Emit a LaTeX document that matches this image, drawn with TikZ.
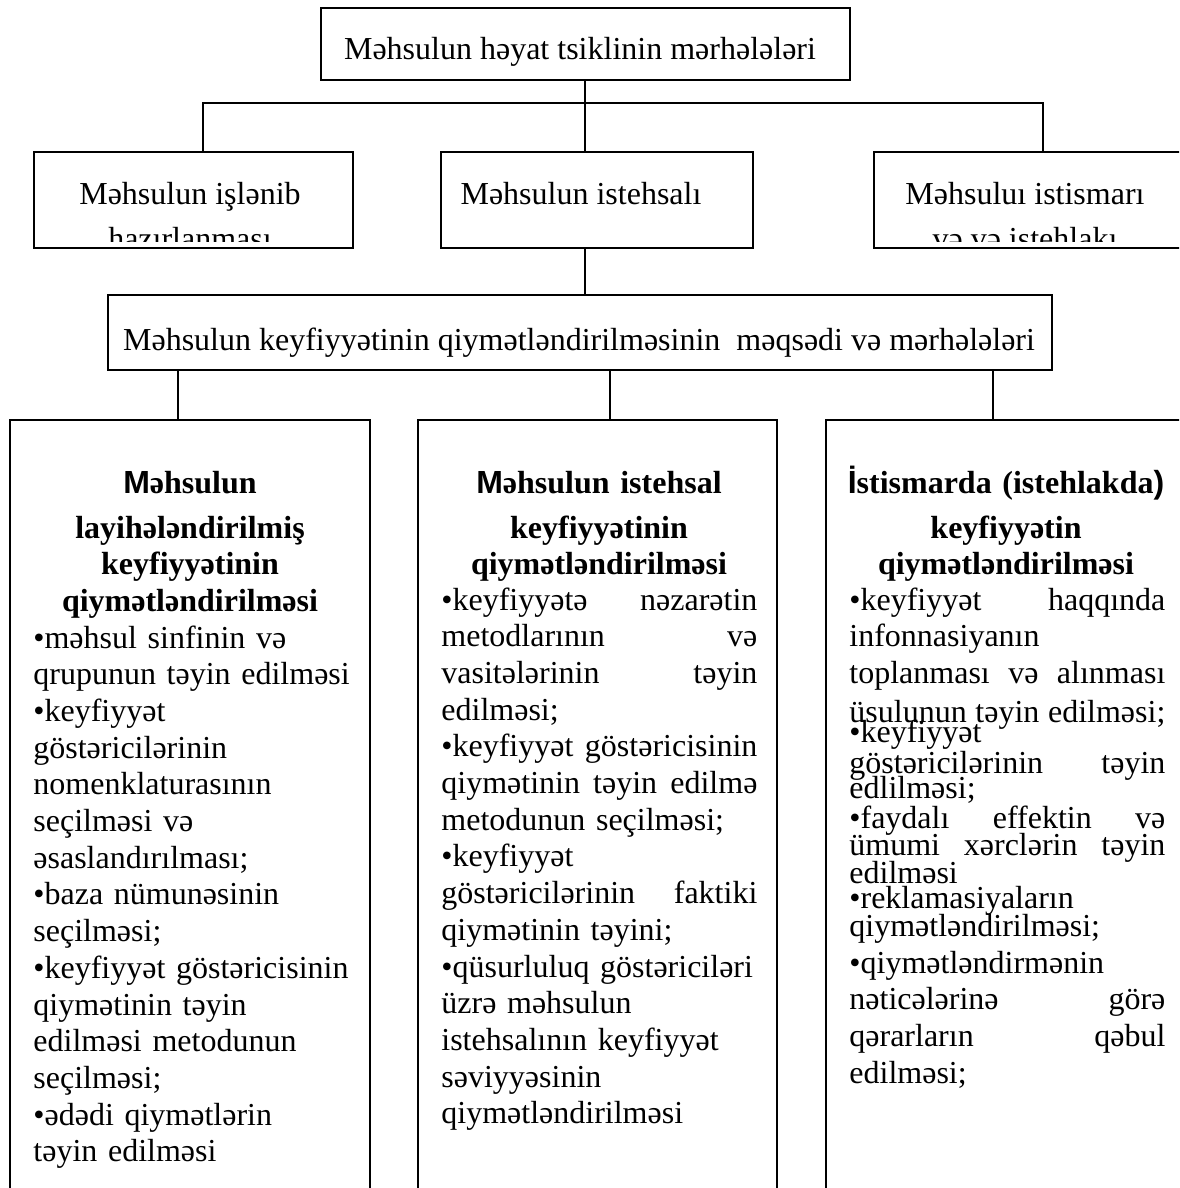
\documentclass[tikz,border=0pt]{standalone}
\usepackage{fontspec}
\setmainfont[Ligatures={NoCommon}]{Liberation Serif}
\setsansfont{Liberation Sans}
\tikzset{
  box/.style={draw, line width=1pt, rectangle, inner sep=0pt},
  link/.style={line width=0.9pt},
  txt/.style={inner sep=0pt, font=\fontsize{16}{18.35}\selectfont},
  head/.style={inner sep=0pt, font=\bfseries\fontsize{16}{18.35}\selectfont,
    text width=166pt, align=center, anchor=base},
  body/.style={txt, text width=158pt, align=left, anchor=base west}
}

\begin{document}
\begin{tikzpicture}[x=0.5pt,y=-0.5pt]
\useasboundingbox (0,0) rectangle (1179,1188);
\clip (0,0) rectangle (1179,1188);
\fill[white] (0,0) rectangle (1179,1188);

% top level
\node[box, minimum width=264.5pt, minimum height=36pt] (top) at (585.5,44) {};
\node[txt, anchor=base] (toptxt) at (580,60) {Məhsulun həyat tsiklinin mərhələləri};

% stages
\node[box, minimum width=159.5pt, minimum height=48pt] (dev) at (193.5,200) {};
\node[box, minimum width=156pt, minimum height=48pt] (prod) at (597,200) {};
\node[box, minimum width=168pt, minimum height=48pt] (use) at (1042,200) {};
\begin{scope}
\clip (34,152) rectangle (353,241);
\node[txt, align=center, anchor=base] (devtxt) at (190,249) {Məhsulun işlənib\\[4.15pt] hazırlanması};
\end{scope}
\node[txt, anchor=base] (prodtxt) at (581,204) {Məhsulun istehsalı};
\begin{scope}
\clip (874,152) rectangle (1179,241);
\node[txt, align=center, anchor=base] (usetxt) at (1025,249) {Məhsuluı istismarı\\[4.15pt] və və istehlakı};
\end{scope}

% goal
\node[box, minimum width=472pt, minimum height=37.5pt] (goal) at (580,332.5) {};
\node[txt, anchor=base] (goaltxt) at (579,350) {Məhsulun keyfiyyətinin qiymətləndirilməsinin\ \ məqsədi və mərhələləri};

% columns
\node[box, minimum width=180pt, minimum height=395pt] (b1) at (190,815) {};
\node[box, minimum width=179.5pt, minimum height=395pt] (b2) at (597.5,815) {};
\node[box, minimum width=192pt, minimum height=395pt] (b3) at (1018,815) {};

% connectors
\coordinate (jl) at (203,103);
\coordinate (jm) at (585,103);
\coordinate (jr) at (1043,103);
\draw[link] (jm |- top.south) -- (jm |- prod.north);
\draw[link] (jl |- dev.north) -- (jl) -- (jr) -- (jr |- use.north);
\draw[link] (jm |- prod.south) -- (jm |- goal.north);
\coordinate (t1) at (178,0);
\coordinate (t2) at (610,0);
\coordinate (t3) at (993,0);
\foreach \k in {1,2,3}
  \draw[link] (goal.south -| t\k) -- (t\k |- b\k.north);

% column texts
\node[head] (h1) at (190,493) {{\sffamily M}əhsulun\\[4.15pt] layihələndirilmiş\\ keyfiyyətinin\\ qiymətləndirilməsi};
\node[body, text width=166pt] (c1) at (33,648) {•məhsul sinfinin və\\ qrupunun təyin edilməsi\\ •keyfiyyət\\ göstəricilərinin\\ nomenklaturasının\\ seçilməsi və\\ əsaslandırılması;\\ •baza nümunəsinin\\ seçilməsi;\\ •keyfiyyət göstəricisinin\\ qiymətinin təyin\\ edilməsi metodunun\\ seçilməsi;\\ •ədədi qiymətlərin\\ təyin edilməsi};

\node[head] (h2) at (599,493) {{\sffamily M}əhsulun istehsal\\[4.15pt] keyfiyyətinin\\ qiymətləndirilməsi};
\node[body] (c2) at (441,610) {•keyfiyyətə\hfill nəzarətin\\ metodlarının\hfill və\\ vasitələrinin\hfill təyin\\ edilməsi;\\ •keyfiyyət\hfill göstəricisinin\\ qiymətinin\hfill təyin\hfill edilmə\\ metodunun seçilməsi;\\ •keyfiyyət\\ göstəricilərinin\hfill faktiki\\ qiymətinin təyini;\\ •qüsurluluq göstəriciləri\\ üzrə məhsulun\\ istehsalının keyfiyyət\\ səviyyəsinin\\ qiymətləndirilməsi};

\node[head] (h3) at (1006,493) {{\sffamily İ}stismarda (istehlakda{\sffamily )}\\[4.15pt] keyfiyyətin\\ qiymətləndirilməsi};
\node[body] (c3) at (849,610) {•keyfiyyət\hfill haqqında\\ infonnasiyanın\\ toplanması\hfill və\hfill alınması\\[1.15pt] üsulunun\hfill təyin\hfill edilməsi;\\[-8.35pt] •keyfiyyət\\[-2.85pt] göstəricilərinin\hfill təyin\\[-5.85pt] edlilməsi;\\[-3.35pt] •faydalı\hfill effektin\hfill və\\[-4.85pt] ümumi\hfill xərclərin\hfill təyin\\[-4.35pt] edilməsi\\[-5.85pt] •reklamasiyaların\\[-4.35pt] qiymətləndirilməsi;\\ •qiymətləndirmənin\\ nəticələrinə\hfill görə\\ qərarların\hfill qəbul\\ edilməsi;};
\end{tikzpicture}
\end{document}
